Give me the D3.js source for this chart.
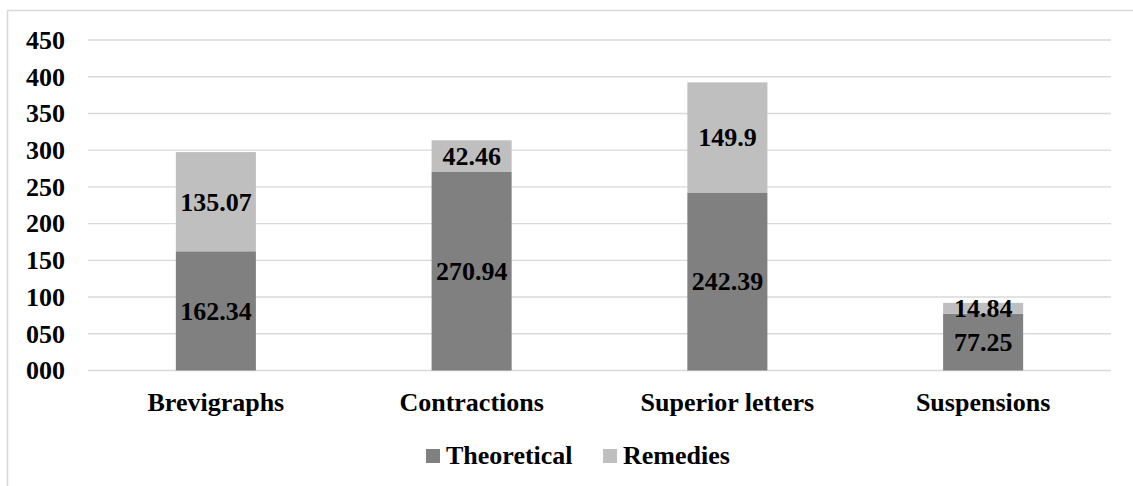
<!DOCTYPE html>
<html>
<head>
<meta charset="utf-8">
<script src="https://cdn.jsdelivr.net/npm/d3@7"></script>
</head>
<body style="margin:0">
<svg id="chart" width="1133" height="486"></svg>
<script>
// Abbreviation types and their stacked counts
const categories = ["Brevigraphs", "Contractions", "Superior letters", "Suspensions"];
const theoretical = [162.34, 270.94, 242.39, 77.25];
const remedies = [135.07, 42.46, 149.9, 14.84];
const seriesNames = ["Theoretical", "Remedies"];
const yTicks = [0, 50, 100, 150, 200, 250, 300, 350, 400, 450];

const colors = { Theoretical: "#808080", Remedies: "#bfbfbf" };

function styleText(sel) {
  return sel
    .style("font-family", '"Liberation Serif"')
    .style("font-weight", "bold")
    .style("font-size", "26px");
}

const svg = d3.select("#chart");

// outer chart frame (open to the right and bottom)
svg.append("rect")
  .attr("x", 7.5).attr("y", 10.5)
  .attr("width", 1140).attr("height", 500)
  .attr("fill", "none")
  .attr("stroke", "#d9d9d9")
  .attr("stroke-width", 1.5);

const plot = { left: 88, right: 1111, top: 40, bottom: 370.5 };

const x = d3.scaleBand()
  .domain(categories)
  .range([plot.left, plot.right])
  .paddingInner(0.687)
  .paddingOuter(0.3435);

const y = d3.scaleLinear()
  .domain([0, 450])
  .range([plot.bottom, plot.top]);

// horizontal gridlines
svg.selectAll("line.grid")
  .data(yTicks)
  .join("line")
  .attr("class", "grid")
  .attr("x1", plot.left).attr("x2", plot.right)
  .attr("y1", d => y(d)).attr("y2", d => y(d))
  .attr("stroke", "#d9d9d9")
  .attr("stroke-width", 1.4);

// y axis tick labels
const fmt = d3.format("03d");
styleText(svg.selectAll("text.ytick")
  .data(yTicks)
  .join("text")
  .attr("class", "ytick")
  .attr("x", 65)
  .attr("y", d => y(d))
  .attr("dy", "0.34em")
  .attr("text-anchor", "end")
  .text(d => fmt(d)));

// stacked bars
const rows = categories.map((c, i) => ({ category: c, Theoretical: theoretical[i], Remedies: remedies[i] }));
const stacked = d3.stack().keys(seriesNames)(rows);

stacked.forEach(layer => {
  svg.selectAll(null)
    .data(layer)
    .join("rect")
    .attr("fill", colors[layer.key])
    .attr("x", d => x(d.data.category))
    .attr("width", x.bandwidth())
    .attr("y", d => y(d[1]))
    .attr("height", d => y(d[0]) - y(d[1]));
});

// value labels centred in each segment
stacked.forEach(layer => {
  styleText(svg.selectAll(null)
    .data(layer)
    .join("text")
    .attr("x", d => x(d.data.category) + x.bandwidth() / 2)
    .attr("y", d => (y(d[0]) + y(d[1])) / 2)
    .attr("dy", "0.34em")
    .attr("text-anchor", "middle")
    .text(d => d.data[layer.key]));
});

// category labels
styleText(svg.selectAll("text.xcat")
  .data(categories)
  .join("text")
  .attr("class", "xcat")
  .attr("x", d => x(d) + x.bandwidth() / 2)
  .attr("y", plot.bottom + 40.5)
  .attr("text-anchor", "middle")
  .text(d => d));

// legend
const legendItems = [
  { name: "Theoretical", x: 426 },
  { name: "Remedies", x: 603 }
];
legendItems.forEach(item => {
  svg.append("rect")
    .attr("x", item.x).attr("y", 449)
    .attr("width", 14).attr("height", 14)
    .attr("fill", colors[item.name]);
  styleText(svg.append("text")
    .attr("x", item.x + 20)
    .attr("y", 464)
    .text(item.name));
});
</script>
</body>
</html>
